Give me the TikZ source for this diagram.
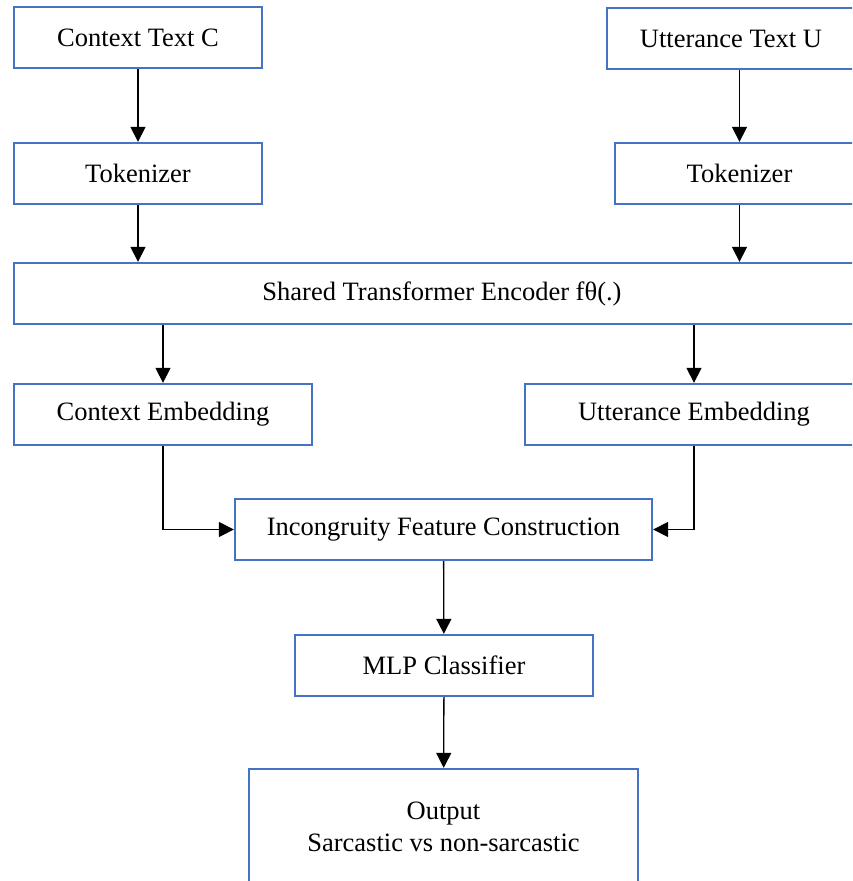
\documentclass[tikz,border=0pt]{standalone}
\usepackage{fontspec}
\setmainfont{Liberation Serif}
\usetikzlibrary{arrows.meta}
\definecolor{boxblue}{RGB}{68,114,196}

\begin{document}
\begin{tikzpicture}[x=1pt, y=-1pt, >={Triangle[length=15pt,width=15pt]},
    every node/.style={font=\fontsize{26.5}{32}\selectfont},
    blk/.style={draw=boxblue, line width=2.3pt, fill=white, inner sep=0pt, minimum height=61pt, align=center},
    flow/.style={->, line width=1.3pt}]
    % 1. 画布与裁切
    \useasboundingbox (0,0) rectangle (852,881);
    \clip (0,0) rectangle (852,881);

    % 2. 输入与分词
    \node[blk, minimum width=248pt] (ctx) at (138, 37.5) {Context Text C};
    \node[blk, minimum width=248pt] (utt) at (731, 38.5) {Utterance Text U};
    \node[blk, minimum width=248pt] (tokC) at (138, 173.5) {Tokenizer};
    \node[blk, minimum width=249pt] (tokU) at (739.5, 173.5) {Tokenizer};

    % 3. 共享编码器
    \node[blk, minimum width=856pt] (enc) at (442, 293.5) {Shared Transformer Encoder fθ(.)};

    % 4. 两路嵌入
    \node[blk, minimum width=298pt] (ctxE) at (163, 414.5) {Context Embedding};
    \node[blk, minimum width=338pt] (uttE) at (694, 414.5) {Utterance Embedding};

    % 5. 特征构造、分类与输出
    \node[blk, minimum width=417pt] (feat) at (443.5, 529.5) {Incongruity Feature Construction};
    \node[blk, minimum width=298pt] (mlp) at (444, 665.5) {MLP Classifier};
    \node[blk, minimum width=389pt, minimum height=115pt] (out) at (443.5, 826.5)
        {Output\\Sarcastic vs non-sarcastic};

    % 6. 连线
    \draw[flow] (ctx) -- (tokC);
    \draw[flow] (utt.south -| tokU.north) -- (tokU.north);
    \draw[flow] (tokC.south) -- (tokC.south |- enc.north);
    \draw[flow] (tokU.south) -- (tokU.south |- enc.north);
    \draw[flow] (ctxE.north |- enc.south) -- (ctxE.north);
    \draw[flow] (uttE.north |- enc.south) -- (uttE.north);
    \draw[flow] (ctxE.south) |- (feat.west);
    \draw[flow] (uttE.south) |- (feat.east);
    \draw[flow] (feat) -- (mlp);
    \draw[flow] (mlp) -- (out);
\end{tikzpicture}
\end{document}
